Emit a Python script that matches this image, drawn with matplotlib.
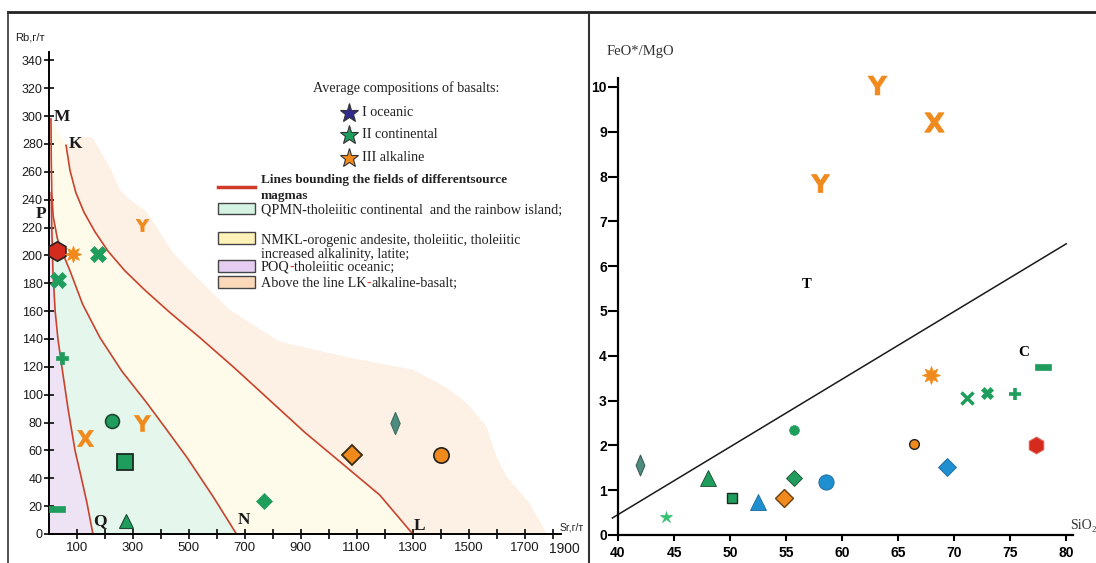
import matplotlib
matplotlib.use("Agg")
import matplotlib.pyplot as plt
from matplotlib.path import Path

# ---------------- data ----------------
# left diagram: Sr vs Rb, boundary lines
mn_sr = [7, 8, 10, 15, 30, 50, 75, 120, 182, 260, 350, 420, 493, 586, 670]
mn_rb = [298, 270, 245, 228, 212, 201, 189, 165, 141, 117, 94, 75, 55, 27, 0]
pq_sr = [8, 10, 14, 22, 32, 46, 68, 93, 116, 136, 157]
pq_rb = [245, 220, 189, 160, 140, 120, 90, 60, 40, 22, 0]
kl_sr = [61, 75, 96, 125, 164, 211, 271, 343, 432, 539, 664, 789, 914, 1057, 1182, 1300]
kl_rb = [279, 261, 245, 231, 217, 203, 189, 175, 159, 141, 119, 96, 73, 49, 28, 0]
# outer edge of the alkaline field
edge_sr = [61, 121, 154, 218, 254, 289, 350, 443, 529, 646, 825, 1064, 1300, 1421, 1493,
           1564, 1600, 1636, 1718, 1779]
edge_rb = [279, 285, 285, 263, 247, 240, 231, 202, 184, 161, 138, 127, 118, 105, 94,
           77, 55, 41, 22, 0]

left_sr = [29, 85, 175, 331, 33, 46, 224, 333, 129, 271, 30, 275, 768, 1083, 1236, 1400]
left_rb = [203, 201, 201, 222, 182, 126, 81, 80, 69, 52, 18, 9, 24, 57, 80, 57]

# right diagram: SiO2 vs FeO*/MgO
tc_si = [39.5, 80.0]
tc_fm = [0.38, 6.5]
right_si = [42.0, 44.3, 48.0, 50.2, 52.5, 54.8, 55.7, 55.7, 58.6, 63.1,
            58.0, 68.2, 67.9, 66.4, 69.4, 71.1, 72.9, 75.4, 77.9, 77.3]
right_fm = [1.56, 0.40, 1.27, 0.83, 0.74, 0.83, 2.34, 1.27, 1.18, 10.04,
            7.85, 9.22, 3.57, 2.03, 1.52, 3.06, 3.17, 3.15, 3.75, 2.01]

legend_items = ['QPMN-tholeiitic continental  and the rainbow island;',
                'NMKL-orogenic andesite, tholeiitic, tholeiitic',
                'POQ-tholeiitic oceanic;',
                'Above the line LK-alkaline-basalt;']

# ---------------- styles ----------------
GREEN = '#1f9d5c'
ORANGE = '#f08a1c'
RED = '#d42b1e'
BLUE = '#1f8fd0'
TEAL = '#4d8c7e'
LINE_RED = '#c8432c'
SERIF = ['Liberation Serif', 'DejaVu Serif']
SANS = ['Liberation Sans', 'DejaVu Sans']
LFS = 10.2  # legend font size

dash = Path([(-1, -0.35), (1, -0.35), (1, 0.35), (-1, 0.35), (-1, -0.35)], closed=True)
slim = Path([(0, 1), (0.42, 0), (0, -1), (-0.42, 0), (0, 1)], closed=True)
sun = (8, 1, 0)
Y = r'$\mathbf{Y}$'
X = r'$\mathbf{X}$'

# (marker, size, face, edge, edge width)
left_style = [
    ('h', 14, RED, '#222', 1.2),
    (sun, 12, ORANGE, ORANGE, 0.5),
    ('X', 11, GREEN, GREEN, 0.5),
    (Y, 9, ORANGE, ORANGE, 0.5),
    ('X', 11, GREEN, GREEN, 0.5),
    ('P', 9, GREEN, GREEN, 0.5),
    ('o', 10, GREEN, '#1c4a30', 1.2),
    (Y, 12, ORANGE, ORANGE, 0.3),
    (X, 12, ORANGE, ORANGE, 0.3),
    ('s', 11, GREEN, '#1a2a20', 1.3),
    (dash, 11, GREEN, GREEN, 0.5),
    ('^', 10, GREEN, '#1c4a30', 0.8),
    ('D', 8, GREEN, GREEN, 0.5),
    ('D', 10, ORANGE, '#3a2a10', 1.3),
    (slim, 16, TEAL, '#3d6f63', 0.8),
    ('o', 11, ORANGE, '#222', 1.2),
]
right_style = [
    (slim, 15, TEAL, '#3d5f55', 0.8),
    ('*', 9, '#35c073', '#35c073', 0.5),
    ('^', 11, GREEN, '#1c4a30', 0.6),
    ('s', 7, GREEN, '#1a2a20', 1.0),
    ('^', 12, BLUE, '#1a6a9a', 0.6),
    ('D', 9, ORANGE, '#6a4010', 1.0),
    ('o', 7, GREEN, GREEN, 0.5),
    ('D', 8, GREEN, '#1c4a30', 0.6),
    ('o', 11, BLUE, '#1a6a9a', 0.6),
    (Y, 14, ORANGE, ORANGE, 0.3),
    (Y, 13, ORANGE, ORANGE, 0.6),
    (X, 14, ORANGE, ORANGE, 0.6),
    (sun, 13, ORANGE, ORANGE, 0.5),
    ('o', 7, ORANGE, '#222', 1.0),
    ('D', 9, BLUE, '#1a6a9a', 0.6),
    ('x', 8, GREEN, GREEN, 2.5),
    ('X', 9, GREEN, GREEN, 0.5),
    ('+', 9, GREEN, GREEN, 2.6),
    (dash, 11, GREEN, GREEN, 0.5),
    ('h', 12, RED, '#e06050', 0.8),
]

W, H = 1096, 563
fig = plt.figure(figsize=(W / 100, H / 100), dpi=100)


def fx(px):
    return px / W


def fy(py):
    return 1 - py / H


# panel frame
fig.add_artist(plt.Line2D([fx(8), 1], [fy(12), fy(12)], color='#222', lw=2))
fig.add_artist(plt.Line2D([fx(8), fx(8)], [0, fy(12)], color='#333', lw=1.2))
fig.add_artist(plt.Line2D([fx(589), fx(589)], [0, fy(12)], color='#333', lw=1.5))

# ================= left panel =================
ax1 = fig.add_axes([fx(49), fy(534), 512 / W, 482 / H])
ax1.set_xlim(0, 1830)
ax1.set_ylim(0, 346)
ax1.patch.set_alpha(0)
for s in ['top', 'right']:
    ax1.spines[s].set_visible(False)
for s in ['left', 'bottom']:
    ax1.spines[s].set_linewidth(1.4)

# fields
purple = list(zip(pq_sr, pq_rb))[::-1] + [(0, 245)]
ax1.fill([0] + [p[0] for p in purple], [0] + [p[1] for p in purple],
         color='#eee2f5', lw=0, zorder=0)
ax1.fill(pq_sr + mn_sr[::-1][:-2], pq_rb + mn_rb[::-1][:-2], color='#e5f6ec', lw=0, zorder=0)
ax1.fill(mn_sr + kl_sr[::-1], mn_rb + kl_rb[::-1], color='#fffbea', lw=0, zorder=0)
ax1.fill(kl_sr + edge_sr[::-1], kl_rb + edge_rb[::-1], color='#fdf0e5', lw=0, zorder=0)

for xs, ys in [(mn_sr, mn_rb), (pq_sr, pq_rb), (kl_sr, kl_rb)]:
    ax1.plot(xs, ys, color=LINE_RED, lw=1.2, zorder=2)

for x, y, (m, ms, fc, ec, mew) in zip(left_sr, left_rb, left_style):
    ax1.plot(x, y, marker=m, ms=ms, mfc=fc, mec=ec, mew=mew, ls='none', zorder=4, clip_on=False)

for lab, x, y in [('M', 46, 299), ('K', 96, 280), ('P', -29, 230),
                  ('Q', 182, 9), ('N', 696, 10), ('L', 1325, 6)]:
    ax1.text(x, y, lab, family=SERIF, fontweight='bold', fontsize=12.5,
             ha='center', va='center', color='#1a1a1a', clip_on=False, zorder=5)

ax1.set_yticks(range(0, 341, 20))
ax1.set_xticks(range(100, 1801, 100))
ax1.set_xticklabels([str(v) if (v // 100) % 2 == 1 and v < 1800 else '' for v in range(100, 1801, 100)])
ax1.tick_params(axis='both', direction='inout', length=7, width=1.3, labelsize=9.5,
                colors='#1a1a1a')
ax1.tick_params(axis='y', pad=1, labelsize=9)
ax1.tick_params(axis='x', pad=2)
for t in ax1.get_xticklabels() + ax1.get_yticklabels():
    t.set_family(SANS)
fig.text(fx(564), fy(549), '1900', family=SANS, fontsize=10, ha='center', va='center', color='#1a1a1a')

fig.text(fx(30), fy(37), 'Rb,г/т', family=SANS, fontsize=8, ha='center', va='center', color='#222')
fig.text(fx(572), fy(527), 'Sr,г/т', family=SANS, fontsize=7.5, ha='center', va='center', color='#222')

# legend
renderer = fig.canvas.get_renderer()


def rich_text(px, py, parts, weight='normal', size=LFS):
    # py is the baseline in pixels
    x = fx(px)
    for s, c in parts:
        t = fig.text(x, fy(py), s, family=SERIF, fontsize=size, va='baseline', color=c,
                     fontweight=weight)
        x += t.get_window_extent(renderer).width / fig.bbox.width


fig.text(fx(406), fy(88), 'Average compositions of basalts:', family=SERIF, fontsize=LFS,
         ha='center', va='center', color='#222')
star_cols = ['#2e2a8a', GREEN, ORANGE]
star_labels = ['I oceanic', 'II continental', 'III alkaline']
for yy, c, lab in zip([113, 135, 158], star_cols, star_labels):
    fig.add_artist(plt.Line2D([fx(349)], [fy(yy)], marker='*', ms=14, mfc=c, mec='#333', mew=0.8))
    fig.text(fx(362), fy(yy), lab, family=SERIF, fontsize=LFS, va='center', color='#222')

fig.add_artist(plt.Line2D([fx(218), fx(255)], [fy(187), fy(187)], color='#d03a28', lw=2.5))
rich_text(261, 183, [('Lines bounding the fields of differentsource', '#222')], weight='bold', size=9.5)
rich_text(261, 199, [('magmas', '#222')], weight='bold', size=9.5)

box_cols = ['#d5f3e3', '#fff2b8', '#e4cdf0', '#fbd8b9']
box_y = [209, 238, 266, 282]
for c, by in zip(box_cols, box_y):
    fig.add_artist(plt.Rectangle((fx(218), fy(by + 5.5)), 37 / W, 11 / H, fc=c, ec='#444', lw=1.0))
rich_text(261, 213, [(legend_items[0], '#222')])
rich_text(261, 244, [(legend_items[1], '#222')])
rich_text(261, 258, [('increased alkalinity, latite;', '#222')])
rich_text(261, 271, [('POQ', '#222'), ('-', '#d03a28'), ('tholeiitic oceanic;', '#222')])
rich_text(261, 287, [('Above the line LK', '#222'), ('-', '#d03a28'), ('alkaline-basalt;', '#222')])

# ================= right panel =================
ax2 = fig.add_axes([fx(618), fy(535), 455 / W, 457 / H])
ax2.set_xlim(40, 80.6)
ax2.set_ylim(0, 10.2)
ax2.patch.set_alpha(0)
for s in ['top', 'right']:
    ax2.spines[s].set_visible(False)
for s in ['left', 'bottom']:
    ax2.spines[s].set_linewidth(1.6)

ax2.plot(tc_si, tc_fm, color='#1a1a1a', lw=1.1, clip_on=False, zorder=2)
for x, y, (m, ms, fc, ec, mew) in zip(right_si, right_fm, right_style):
    ax2.plot(x, y, marker=m, ms=ms, mfc=fc, mec=ec, mew=mew, ls='none', zorder=4, clip_on=False)

ax2.text(56.8, 5.58, 'T', family=SERIF, fontweight='bold', fontsize=10.5, ha='center', va='center')
ax2.text(76.2, 4.08, 'C', family=SERIF, fontweight='bold', fontsize=11, ha='center', va='center')
fig.text(fx(1083), fy(525), 'SiO₂', family=SERIF, fontsize=10, ha='center', va='center', color='#333')
fig.text(fx(640), fy(52), 'FeO*/MgO', family=SERIF, fontsize=10.5, ha='center', va='center', color='#333')

ax2.set_yticks(range(0, 11))
ax2.set_xticks(range(40, 81, 5))
ax2.tick_params(axis='y', direction='out', length=7, width=1.5, pad=1, labelsize=10)
ax2.tick_params(axis='x', direction='out', length=4, width=1.5, pad=4, labelsize=10)
for t in ax2.get_xticklabels() + ax2.get_yticklabels():
    t.set_family(SANS)
    t.set_fontweight('bold')

fig.savefig('out.png', dpi=100)
